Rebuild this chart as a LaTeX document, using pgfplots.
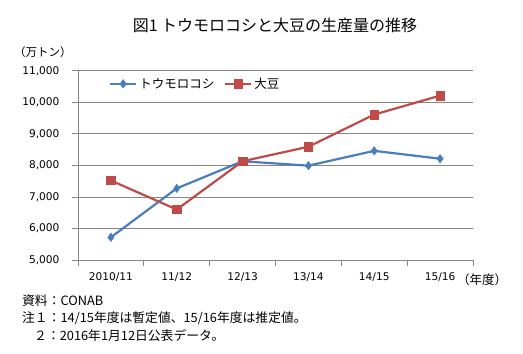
\documentclass[border=0pt]{standalone}
\usepackage{fontspec}
\setmainfont{Noto Sans CJK JP}
\newfontfamily\tickfont{DejaVu Sans}
\usepackage{pgfplots}
\pgfplotsset{compat=1.18}
\definecolor{cblue}{HTML}{4A7EBB}
\definecolor{cred}{HTML}{BE4B48}
\definecolor{cgrid}{HTML}{868686}
\begin{document}
\begin{tikzpicture}
\useasboundingbox (0pt,0pt) rectangle (523pt,354pt);
\begin{axis}[
  at={(78pt,94pt)}, anchor=south west,
  scale only axis, width=395pt, height=189.3pt,
  xmin=-0.5, xmax=5.5, ymin=5000, ymax=11000,
  ytick={5000,6000,...,11000},
  scaled y ticks=false,
  xtick={0,...,5},
  xticklabels={2010/11,11/12,12/13,13/14,14/15,15/16},
  minor xtick={-0.5,0.5,...,5.5},
  major x tick style={draw=none},
  tick align=outside, major tick length=6pt, minor tick length=6pt,
  axis x line*=bottom, axis y line*=left,
  axis line style={draw=cgrid, line width=0.8pt, -},
  tick style={draw=cgrid, line width=0.8pt},
  ymajorgrids, grid style={draw=cgrid, line width=0.8pt},
  /pgf/number format/assume math mode=true,
  yticklabel style={/pgf/number format/fixed, /pgf/number format/1000 sep={,}, xshift=-9pt},
  ticklabel style={font=\tickfont\fontsize{10.6}{13}\selectfont},
  xticklabel style={yshift=-3pt},
  legend columns=2,
  legend style={at={(0.063,0.995)}, anchor=north west, draw=none, fill=white,
    font=\fontsize{12.5}{14}\selectfont, inner xsep=6pt, inner ysep=4pt,
    /tikz/every even column/.append style={column sep=8pt}},
  legend image code/.code={\draw[mark repeat=2,mark phase=2] plot coordinates {(0pt,0pt)(13pt,0pt)(26pt,0pt)};},
]
\addplot[cblue, line width=2.2pt, mark=diamond*, mark size=4.2pt, mark options={solid, fill=cblue, line width=0.5pt}]
  coordinates {(0,5720) (1,7270) (2,8130) (3,7990) (4,8460) (5,8210)};
\addlegendentry{トウモロコシ}
\addplot[cred, line width=2.2pt, mark=square*, mark size=4.2pt, mark options={solid, fill=cred, line width=0.5pt}]
  coordinates {(0,7520) (1,6600) (2,8130) (3,8590) (4,9610) (5,10210)};
\addlegendentry{大豆}
\end{axis}
\node[font=\fontsize{16}{18}\selectfont] at (275pt,329pt) {図1\ トウモロコシと大豆の生産量の推移};
\node[font=\fontsize{11.5}{13}\selectfont, anchor=west, inner sep=0pt] at (14pt,302pt) {（万トン）};
\node[font=\fontsize{12.5}{14}\selectfont, anchor=center] at (482pt,74pt) {（年度）};
\node[font=\fontsize{12.8}{14}\selectfont, anchor=west, inner sep=0pt] at (22pt,53pt) {資料：CONAB};
\node[font=\fontsize{12.8}{14}\selectfont, anchor=west, inner sep=0pt] at (22pt,36pt) {注１：14/15年度は暫定値、15/16年度は推定値。};
\node[font=\fontsize{12.8}{14}\selectfont, anchor=west, inner sep=0pt] at (34pt,18pt) {２：2016年1月12日公表データ。};
\end{tikzpicture}
\end{document}
